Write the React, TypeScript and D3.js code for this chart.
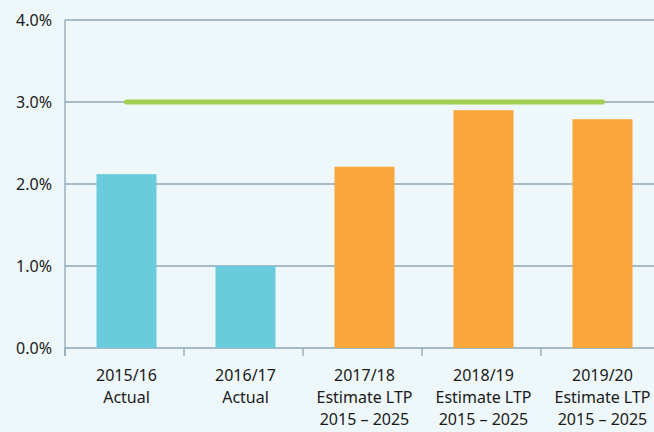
import React from "react";
import * as d3 from "d3";

const categories = ["2015/16|Actual", "2016/17|Actual", "2017/18|Estimate LTP|2015 – 2025", "2018/19|Estimate LTP|2015 – 2025", "2019/20|Estimate LTP|2015 – 2025"];
const values = [2.12, 1.0, 2.21, 2.9, 2.79];
const barKinds = ["actual", "actual", "estimate", "estimate", "estimate"];
const yTicks = [0, 1, 2, 3, 4];
const targetValue = 3.0;
const targetFrom = 0;
const targetTo = 4;

const W = 654, H = 432;
const colors: Record<string, string> = { actual: "#69cbdb", estimate: "#f9a63a" };

export default function App() {
  React.useEffect(() => { document.body.style.margin = "0"; }, []);
  const x = d3.scaleBand<number>().domain(d3.range(categories.length)).range([65, 660]).paddingInner(0).paddingOuter(0);
  const y = d3.scaleLinear().domain([0, 4]).range([348, 20]);
  const bw = 60;
  const cx = (i: number) => x(i)! + x.bandwidth() / 2 + 2;
  const font = "'Noto Sans', sans-serif";
  const grid = "#8ea7b6";
  return (
    <svg width={W} height={H} style={{ display: "block", background: "#eef7f9" }} fontFamily={font}>
      <rect width={W} height={H} fill="#eef7f9" />
      {yTicks.map((t) => (
        <g key={t}>
          <line x1={65} x2={W} y1={y(t)} y2={y(t)} stroke={grid} strokeWidth={1.3} />
          <text x={52} y={y(t)} dy="0.35em" textAnchor="end" fontSize={16} fill="#1a1a1a">{t.toFixed(1)}%</text>
        </g>
      ))}
      <line x1={65} x2={65} y1={20} y2={356} stroke={grid} strokeWidth={1.3} />
      {d3.range(categories.length + 1).map((i) => (
        <line key={i} x1={x(i) ?? x.range()[1]} x2={x(i) ?? x.range()[1]} y1={348} y2={356} stroke={grid} strokeWidth={1.3} />
      ))}
      {values.map((v, i) => (
        <rect key={i} x={cx(i) - bw / 2} y={y(v)} width={bw} height={y(0) - y(v)} fill={colors[barKinds[i]]} />
      ))}
      <line x1={cx(targetFrom)} x2={cx(targetTo)} y1={y(targetValue)} y2={y(targetValue)} stroke="#a4cf55" strokeWidth={5} strokeLinecap="round" />
      {categories.map((c, i) => (
        <text key={i} x={cx(i)} y={381} textAnchor="middle" fontSize={16} fill="#1a1a1a">
          {c.split("|").map((l, j) => (
            <tspan key={j} x={cx(i)} dy={j === 0 ? 0 : 22}>{l}</tspan>
          ))}
        </text>
      ))}
    </svg>
  );
}
